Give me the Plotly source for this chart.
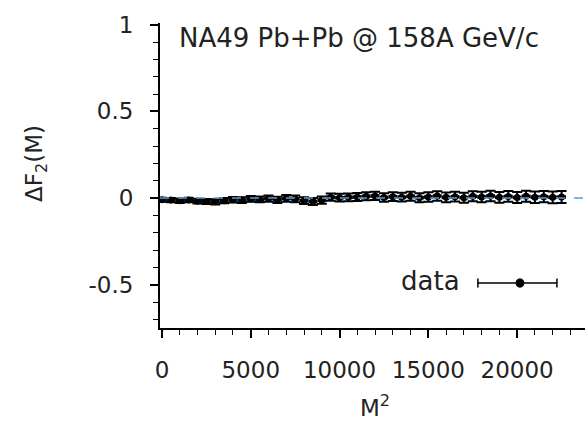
import plotly.graph_objects as go

# ---- data ----
m2 = [0, 500, 1000, 1500, 2000, 2500, 3000, 3500, 4000, 4500,
      5000, 5500, 6000, 6500, 7000, 7500, 8000, 8500, 9000, 9500,
      10000, 10500, 11000, 11500, 12000, 12500, 13000, 13500, 14000, 14500,
      15000, 15500, 16000, 16500, 17000, 17500, 18000, 18500, 19000, 19500,
      20000, 20500, 21000, 21500, 22000, 22500]
dF2 = [-0.010, -0.012, -0.015, -0.012, -0.018, -0.020, -0.022, -0.015, -0.010, -0.012,
       -0.005, -0.008, -0.003, -0.010, -0.002, -0.005, -0.015, -0.020, -0.012, 0.005,
       0.002, 0.004, 0.006, 0.010, 0.012, 0.003, 0.008, 0.005, 0.010, 0.002,
       0.006, 0.012, 0.004, 0.008, 0.002, 0.010, 0.006, 0.012, 0.004, 0.009,
       0.003, 0.010, 0.005, 0.008, 0.004, 0.006]
dF2_err = [0.012, 0.012, 0.013, 0.013, 0.014, 0.014, 0.015, 0.015, 0.016, 0.016,
           0.017, 0.017, 0.018, 0.018, 0.019, 0.019, 0.020, 0.020, 0.021, 0.021,
           0.022, 0.022, 0.023, 0.023, 0.024, 0.024, 0.025, 0.025, 0.026, 0.026,
           0.027, 0.027, 0.028, 0.028, 0.029, 0.029, 0.030, 0.030, 0.031, 0.031,
           0.032, 0.032, 0.033, 0.033, 0.034, 0.034]
m2_halfbin = [250] * len(m2)

x_ticks = [0, 5000, 10000, 15000, 20000]
x_ticklabels = ["0", "5000", "10000", "15000", "20000"]
y_ticks = [-0.5, 0, 0.5, 1]
y_ticklabels = ["-0.5", "0", "0.5", "1"]

FONT = "DejaVu Sans"
TXT = "#222222"

fig = go.Figure()
fig.add_trace(go.Scatter(
    x=m2, y=dF2, mode="markers",
    marker=dict(color="black", size=7),
    error_y=dict(type="data", array=dF2_err, color="black", thickness=2, width=5),
    error_x=dict(type="data", array=m2_halfbin, color="black", thickness=3.5, width=0),
    showlegend=False,
))

shapes = [
    # reference line at 0
    dict(type="line", xref="paper", yref="y", x0=0, x1=1, y0=0, y1=0,
         line=dict(color="#5a9ad8", width=1.5, dash="dash"), layer="above"),
    # legend sample: error bar
    dict(type="line", xref="paper", yref="paper", x0=0.748, x1=0.934, y0=0.1475, y1=0.1475,
         line=dict(color="black", width=1.5)),
    dict(type="line", xref="paper", yref="paper", x0=0.748, x1=0.748, y0=0.133, y1=0.162,
         line=dict(color="black", width=1.5)),
    dict(type="line", xref="paper", yref="paper", x0=0.934, x1=0.934, y0=0.133, y1=0.162,
         line=dict(color="black", width=1.5)),
    dict(type="circle", xref="paper", yref="paper", x0=0.838, x1=0.856, y0=0.134, y1=0.161,
         fillcolor="black", line=dict(color="black", width=1)),
]

annotations = [
    dict(text="NA49 Pb+Pb @ 158A GeV/c", xref="paper", yref="paper", x=0.04, y=0.951,
         xanchor="left", yanchor="middle", showarrow=False,
         font=dict(family=FONT, size=26, color=TXT)),
    dict(text="data", xref="paper", yref="paper", x=0.71, y=0.153,
         xanchor="right", yanchor="middle", showarrow=False,
         font=dict(family=FONT, size=26, color=TXT)),
    dict(text="ΔF<sub>2</sub>(M)", xref="paper", yref="paper", x=-0.29, y=0.54,
         xanchor="center", yanchor="middle", showarrow=False, textangle=-90,
         font=dict(family=FONT, size=23, color=TXT)),
    dict(text="M<sup>2</sup>", xref="paper", yref="paper", x=0.506, y=-0.31,
         xanchor="center", yanchor="bottom", showarrow=False,
         font=dict(family=FONT, size=23, color=TXT)),
]

fig.update_layout(
    width=585, height=423,
    margin=dict(l=160, r=0, t=23, b=95),
    paper_bgcolor="white", plot_bgcolor="white",
    shapes=shapes, annotations=annotations,
    font=dict(family=FONT, size=23, color=TXT),
    xaxis=dict(range=[-110, 23820], tickvals=x_ticks, ticktext=x_ticklabels,
               showgrid=False, zeroline=False, showline=True, linecolor="black", linewidth=2,
               ticks="outside", ticklen=8, tickwidth=1.5, tickcolor="black",
               minor=dict(dtick=1000, ticks="outside", ticklen=5, tickcolor="black", tickwidth=1.2),
               ticklabelstandoff=12,
               tickfont=dict(family=FONT, size=23, color=TXT)),
    yaxis=dict(range=[-0.75, 1.01], tickvals=y_ticks, ticktext=y_ticklabels,
               showgrid=False, zeroline=False, showline=True, linecolor="black", linewidth=2,
               ticks="outside", ticklen=8, tickwidth=1.5, tickcolor="black",
               minor=dict(dtick=0.1, ticks="outside", ticklen=5, tickcolor="black", tickwidth=1.2),
               ticklabelstandoff=12,
               tickfont=dict(family=FONT, size=23, color=TXT)),
)

fig.write_html("out.html")
